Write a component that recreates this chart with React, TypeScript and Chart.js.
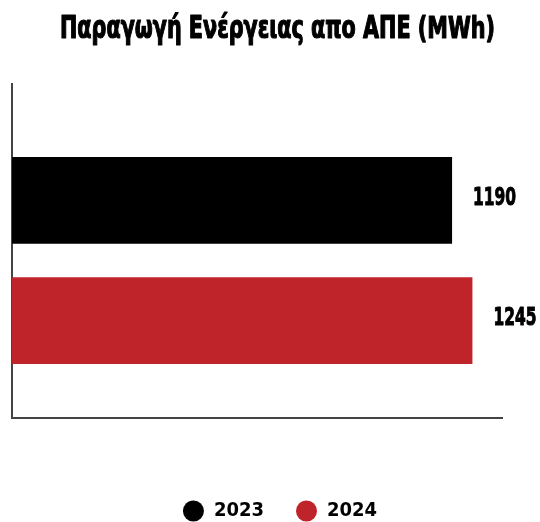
import React, { useEffect, useRef } from 'react';
import { Chart, registerables } from 'chart.js';

Chart.register(...registerables);

const TITLE = 'Παραγωγή Ενέργειας απο ΑΠΕ (MWh)';
const CATEGORIES = ['ΑΠΕ'];
const SERIES_LABELS = ['2023', '2024'];
const VALUES_2023 = [1190];
const VALUES_2024 = [1245];
const SERIES_COLORS = ['#000000', '#BF242A'];
const X_MIN = 0;
const X_MAX = 1325;

const FONT = "'DejaVu Sans Condensed', 'DejaVu Sans', sans-serif";
const AXIS_COLOR = '#444';

// Title drawn horizontally condensed (and slightly emboldened) to mimic the narrow heavy face of the original
const titlePlugin = {
  id: 'condensedTitle',
  afterDraw(chart: any) {
    const ctx = chart.ctx;
    ctx.save();
    ctx.font = `bold 31px ${FONT}`;
    ctx.fillStyle = '#000';
    ctx.strokeStyle = '#000';
    ctx.lineWidth = 1.2;
    ctx.lineJoin = 'round';
    ctx.textAlign = 'center';
    ctx.textBaseline = 'middle';
    ctx.fillText(TITLE, 277.5, 30, 435);
    ctx.strokeText(TITLE, 277.5, 30, 435);
    ctx.restore();
  },
};

const valueLabels = {
  id: 'valueLabels',
  afterDatasetsDraw(chart: any) {
    const ctx = chart.ctx;
    ctx.save();
    ctx.font = `bold 25px ${FONT}`;
    ctx.fillStyle = '#000';
    ctx.strokeStyle = '#000';
    ctx.lineWidth = 1;
    ctx.lineJoin = 'round';
    ctx.textAlign = 'left';
    ctx.textBaseline = 'middle';
    chart.data.datasets.forEach((ds: any, i: number) => {
      const meta = chart.getDatasetMeta(i);
      meta.data.forEach((bar: any, j: number) => {
        const v = ds.data[j];
        if (v == null) return;
        ctx.fillText(String(v), bar.x + 21, bar.y - 2, 43);
        ctx.strokeText(String(v), bar.x + 21, bar.y - 2, 43);
      });
    });
    ctx.restore();
  },
};

export default function App() {
  const ref = useRef<HTMLCanvasElement>(null);

  useEffect(() => {
    if (!ref.current) return;
    const chart = new Chart(ref.current, {
      type: 'bar',
      data: {
        labels: CATEGORIES,
        datasets: [
          {
            label: SERIES_LABELS[0],
            data: VALUES_2023,
            backgroundColor: SERIES_COLORS[0],
            borderWidth: 0,
            categoryPercentage: 0.763,
            barPercentage: 0.722,
          },
          {
            label: SERIES_LABELS[1],
            data: VALUES_2024,
            backgroundColor: SERIES_COLORS[1],
            borderWidth: 0,
            categoryPercentage: 0.763,
            barPercentage: 0.722,
          },
        ],
      },
      options: {
        indexAxis: 'y',
        animation: false,
        responsive: false,
        devicePixelRatio: 1,
        layout: { padding: { left: 12, right: 0, top: 83, bottom: 0 } },
        scales: {
          x: {
            type: 'linear',
            min: X_MIN,
            max: X_MAX,
            display: true,
            grid: { display: false },
            ticks: { display: false },
            border: { display: true, color: AXIS_COLOR, width: 2 },
            afterFit: (s: any) => {
              s.height = 51;
            },
          },
          xTop: {
            type: 'linear',
            position: 'top',
            min: X_MIN,
            max: X_MAX,
            display: true,
            ticks: { display: false },
            grid: {
              display: true,
              drawOnChartArea: false,
              drawTicks: true,
              tickLength: 20,
              color: AXIS_COLOR,
              lineWidth: 2,
            },
            border: { display: false },
            afterBuildTicks: (s: any) => {
              s.ticks = [{ value: X_MIN }];
            },
            afterFit: (s: any) => {
              s.height = 20;
            },
          },
          y: {
            type: 'category',
            display: true,
            grid: { display: false },
            ticks: { display: false },
            border: { display: true, color: AXIS_COLOR, width: 2 },
            afterFit: (s: any) => {
              s.width = 0;
            },
          },
          yRight: {
            type: 'category',
            position: 'right',
            display: true,
            grid: { display: false },
            ticks: { display: false },
            border: { display: false },
            afterFit: (s: any) => {
              s.width = 46;
            },
          },
        },
        plugins: {
          title: { display: false },
          legend: {
            display: true,
            position: 'bottom',
            labels: {
              usePointStyle: true,
              pointStyle: 'circle',
              boxWidth: 15,
              boxHeight: 15,
              pointStyleWidth: 21,
              padding: 32,
              color: '#000',
              font: { family: FONT, size: 20, weight: 'bold' },
            },
          },
          tooltip: { enabled: false },
        },
      } as any,
      plugins: [valueLabels, titlePlugin],
    });
    return () => chart.destroy();
  }, []);

  return (
    <div
      style={{
        position: 'absolute',
        left: 0,
        top: 0,
        width: 540,
        height: 522,
        overflow: 'hidden',
        background: '#fff',
      }}
    >
      <canvas ref={ref} width={548} height={531} style={{ display: 'block', width: 548, height: 531 }} />
    </div>
  );
}
